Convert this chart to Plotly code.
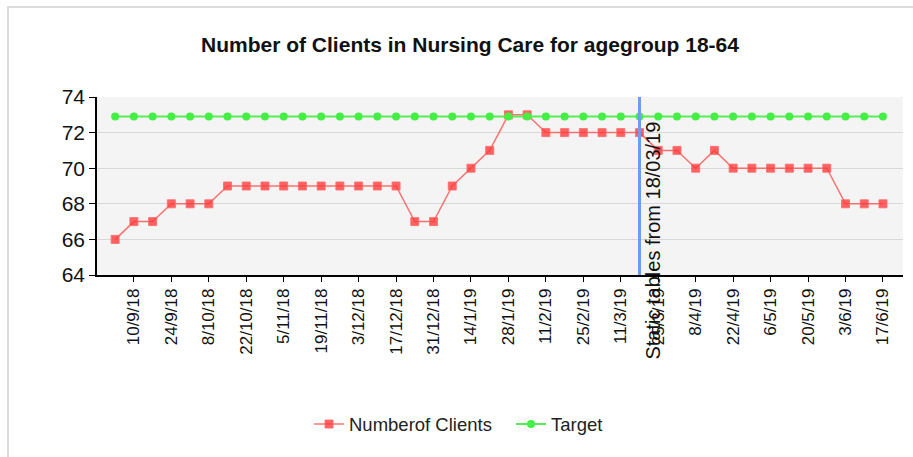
import plotly.graph_objects as go

date_labels = ["3/9/18", "10/9/18", "17/9/18", "24/9/18", "1/10/18", "8/10/18", "15/10/18", "22/10/18",
               "29/10/18", "5/11/18", "12/11/18", "19/11/18", "26/11/18", "3/12/18", "10/12/18", "17/12/18",
               "24/12/18", "31/12/18", "7/1/19", "14/1/19", "21/1/19", "28/1/19", "4/2/19", "11/2/19",
               "18/2/19", "25/2/19", "4/3/19", "11/3/19", "18/3/19", "25/3/19", "1/4/19", "8/4/19",
               "15/4/19", "22/4/19", "29/4/19", "6/5/19", "13/5/19", "20/5/19", "27/5/19", "3/6/19",
               "10/6/19", "17/6/19"]
clients = [66, 67, 67, 68, 68, 68, 69, 69, 69, 69, 69, 69, 69, 69, 69, 69,
           67, 67, 69, 70, 71, 73, 73, 72, 72, 72, 72, 72, 72, 71, 71, 70,
           71, 70, 70, 70, 70, 70, 70, 68, 68, 68]
target = [72.9] * len(clients)
tick_idx = list(range(1, len(date_labels), 2))
tick_text = [date_labels[i] for i in tick_idx]
marker_index = 28
marker_text = "Static tables from 18/03/19"

xs = list(range(len(clients)))

fig = go.Figure()
fig.add_trace(go.Scatter(
    x=xs, y=clients, name="Numberof Clients", mode="lines+markers",
    line=dict(color="rgba(255,90,90,0.85)", width=1.5),
    marker=dict(symbol="square", size=8, color="rgba(255,60,60,0.8)",
                line=dict(color="rgba(255,110,110,0.9)", width=1)),
))
fig.add_trace(go.Scatter(
    x=xs, y=target, name="Target", mode="lines+markers",
    line=dict(color="#55ee55", width=2),
    marker=dict(symbol="circle", size=8, color="#44ee44"),
))

fig.add_shape(type="line", xref="x", yref="paper", x0=marker_index, x1=marker_index,
              y0=0, y1=1, line=dict(color="#6f9cee", width=3), layer="above")
fig.add_annotation(x=marker_index, xref="x", xshift=14, y=-0.489, yref="paper",
                   text=marker_text, textangle=-90, showarrow=False,
                   xanchor="center", yanchor="bottom",
                   font=dict(family="Liberation Sans, Arial", size=20, color="#111"))

fig.add_shape(type="rect", xref="paper", yref="paper", x0=-0.1104, x1=1.03, y0=-1.05, y1=1.5056,
              line=dict(color="#dcdcdc", width=2), fillcolor="rgba(0,0,0,0)", layer="below")

fig.update_layout(
    width=913, height=457,
    margin=dict(l=97, r=10, t=97, b=182),
    paper_bgcolor="white", plot_bgcolor="#f4f4f4",
    title=dict(text="<b>Number of Clients in Nursing Care for agegroup 18-64</b>",
               x=470 / 913, xanchor="center", y=1 - 45 / 457, yanchor="middle",
               font=dict(family="Liberation Sans, Arial", size=21, color="#111")),
    showlegend=True,
    legend=dict(orientation="h", x=(309 - 97) / 806, xanchor="left", y=-0.84, yanchor="middle",
                entrywidth=157, entrywidthmode="pixels", itemwidth=30,
                font=dict(family="Liberation Sans, Arial", size=18.5, color="#222"),
                bgcolor="rgba(0,0,0,0)"),
    xaxis=dict(range=[-0.97, 42.07], tickmode="array", tickvals=tick_idx, ticktext=tick_text,
               tickangle=-90, showgrid=False, zeroline=False, showline=True, linecolor="black",
               linewidth=1.5, ticks="outside", ticklen=5, tickcolor="black",
               tickfont=dict(family="Liberation Sans, Arial", size=17, color="#111")),
    yaxis=dict(range=[64, 74], tickvals=[64, 66, 68, 70, 72, 74], showgrid=True,
               gridcolor="#d8d8d8", gridwidth=1, zeroline=False, showline=True, linecolor="black",
               linewidth=1.5, ticks="outside", ticklen=6, tickcolor="black",
               tickfont=dict(family="Liberation Sans, Arial", size=21, color="#111")),
)

fig.write_html("out.html", config={"displayModeBar": False},
               post_script="document.body.style.margin='0px';document.body.style.overflow='hidden';")
